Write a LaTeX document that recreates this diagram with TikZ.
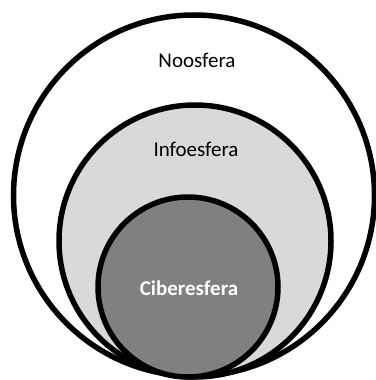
\documentclass[tikz,border=0pt]{standalone}
\usepackage{fontspec}
\setmainfont{Carlito}
\definecolor{infogray}{HTML}{D9D9D9}
\definecolor{cibergray}{HTML}{808080}
\begin{document}
\begin{tikzpicture}[x=1pt,y=-1pt,
  sphere/.style={draw=black, line width=5.5pt},
  lbl/.style={font=\fontsize{21}{25}\selectfont, inner sep=0pt}]
\useasboundingbox (0,0) rectangle (375,380);
% outer sphere
\draw[sphere, fill=white] (194,195.5) circle[radius=180.5];
% middle sphere
\draw[sphere, fill=infogray] (195,241) circle[radius=136];
% inner sphere
\draw[sphere, fill=cibergray] (188,287) circle[radius=90];
\node[lbl] (noos) at (197,60) {Noosfera};
\node[lbl] (info) at (196,149) {Infoesfera};
\node[lbl, text=white, font=\fontsize{21}{25}\selectfont\bfseries] (ciber) at (189,288) {Ciberesfera};
\end{tikzpicture}
\end{document}
